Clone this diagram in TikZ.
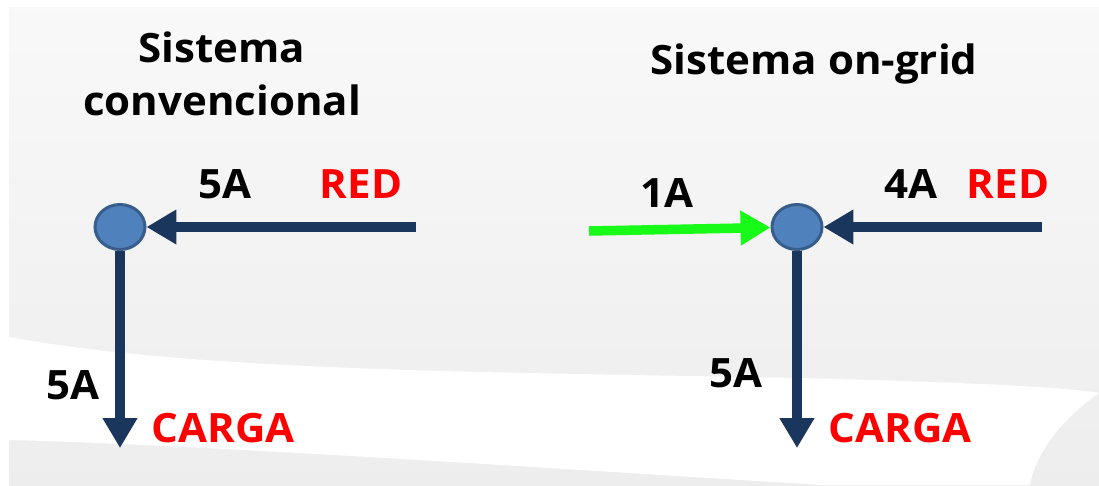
\documentclass[tikz,border=0pt]{standalone}
\usepackage{fontspec}
\setmainfont[FakeStretch=1.04]{Open Sans}
\usetikzlibrary{positioning,arrows.meta,shapes.geometric}

\definecolor{azulNodo}{RGB}{79,129,189}
\definecolor{bordeNodo}{RGB}{56,93,138}
\definecolor{azulFlecha}{RGB}{27,54,93}
\definecolor{verdeFlecha}{RGB}{24,250,24}
\definecolor{rojoTexto}{RGB}{255,0,0}

\begin{document}
\begin{tikzpicture}[
    x=0.02cm, y=-0.02cm,
    nodo/.style={%
      draw=bordeNodo,
      fill=azulNodo,
      ellipse,
      line width=0.06cm,
      minimum width=1.0cm,
      minimum height=0.9cm,
      inner sep=0pt,
    },
    flecha/.style={%
      draw=azulFlecha,
      line width=0.19cm,
      -{Triangle[length=0.6cm,width=0.66cm]},
    },
    etiqueta/.style={%
      font=\fontsize{23}{30.2}\selectfont\bfseries,
      inner sep=0pt,
    },
    roja/.style={etiqueta, text=rojoTexto},
    titulo/.style={etiqueta, align=center, anchor=north},
  ]
    % fondo gris con la franja blanca de abajo
    \fill [white] (0,0) rectangle (1099,485);
    \shade [top color=gray!5, bottom color=gray!14] (9,7) rectangle (1099,485);
    \fill [white] (9,337) .. controls (200,372) and (500,372) .. (800,378)
      .. controls (950,382) and (1060,386) .. (1099,393)
      .. controls (1060,420) and (1035,455) .. (1030,485)
      -- (820,485) .. controls (500,465) and (200,445) .. (9,440) -- cycle;

    % sistema convencional
    \node [titulo] (tituloConv) at (222,31) {Sistema\\convencional};
    \node [nodo] (nodoConv) at (120,227) {};
    \coordinate (redConv) at (416,227);
    \coordinate (cargaConv) at (120,448);
    \path (nodoConv) ++(105,-43) node [etiqueta] (iRedConv) {5A};
    \path (nodoConv) ++(241,-43) node [roja] (textoRedConv) {RED};
    \path (nodoConv) ++(-47,158) node [etiqueta] (iCargaConv) {5A};
    \path (nodoConv) ++(103,201) node [roja] (textoCargaConv) {CARGA};

    \draw [flecha] (redConv) -- (nodoConv);
    \draw [flecha] (nodoConv) -- (cargaConv);

    % sistema on-grid
    \node [titulo] (tituloGrid) at (814,43) {Sistema on-grid};
    \node [nodo] (nodoGrid) at (797,227) {};
    \coordinate (solarGrid) at (589,231);
    \coordinate (redGrid) at (1042,227);
    \coordinate (cargaGrid) at (797,448);
    \path (nodoGrid) ++(-130,-34) node [etiqueta] (iSolarGrid) {1A};
    \path (nodoGrid) ++(114,-43) node [etiqueta] (iRedGrid) {4A};
    \path (nodoGrid) ++(211,-43) node [roja] (textoRedGrid) {RED};
    \path (nodoGrid) ++(-61,146) node [etiqueta] (iCargaGrid) {5A};
    \path (nodoGrid) ++(103,201) node [roja] (textoCargaGrid) {CARGA};

    \draw [flecha, draw=verdeFlecha] (solarGrid) -- (nodoGrid);
    \draw [flecha] (redGrid) -- (nodoGrid);
    \draw [flecha] (nodoGrid) -- (cargaGrid);
\end{tikzpicture}
\end{document}
